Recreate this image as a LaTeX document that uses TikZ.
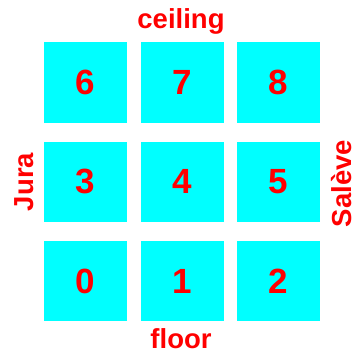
\documentclass[tikz,border=0pt]{standalone}
\usepackage{fontspec}
\setmainfont{Liberation Sans}
\definecolor{boxcyan}{RGB}{0,255,255}
\definecolor{labelred}{RGB}{255,0,0}
\begin{document}
\begin{tikzpicture}[x=1pt,y=-1pt,
  cell/.style={fill=boxcyan,draw=none,inner sep=0pt,minimum width=83pt,minimum height=80pt,
    text=labelred,font=\fontsize{35}{35}\selectfont\bfseries},
  side/.style={text=labelred,inner sep=0pt,font=\fontsize{27.5}{27.5}\selectfont\bfseries}]
\useasboundingbox (0,0) rectangle (353,353);
\foreach \n in {0,...,8}{
  \pgfmathsetmacro{\cx}{85.5+96.5*mod(\n,3)}
  \pgfmathsetmacro{\cy}{281-99.25*int(\n/3)}
  \node[cell] (c\n) at (\cx,\cy) {\n};
}
\node[side,anchor=base] (ceiling) at (181,29) {ceiling};
\node[side,anchor=base] (floor) at (181,348.5) {floor};
\node[side,anchor=base,rotate=90] (jura) at (33,182) {Jura};
\node[side,anchor=base,rotate=90] (saleve) at (351,183.5) {Salève};
\end{tikzpicture}
\end{document}
